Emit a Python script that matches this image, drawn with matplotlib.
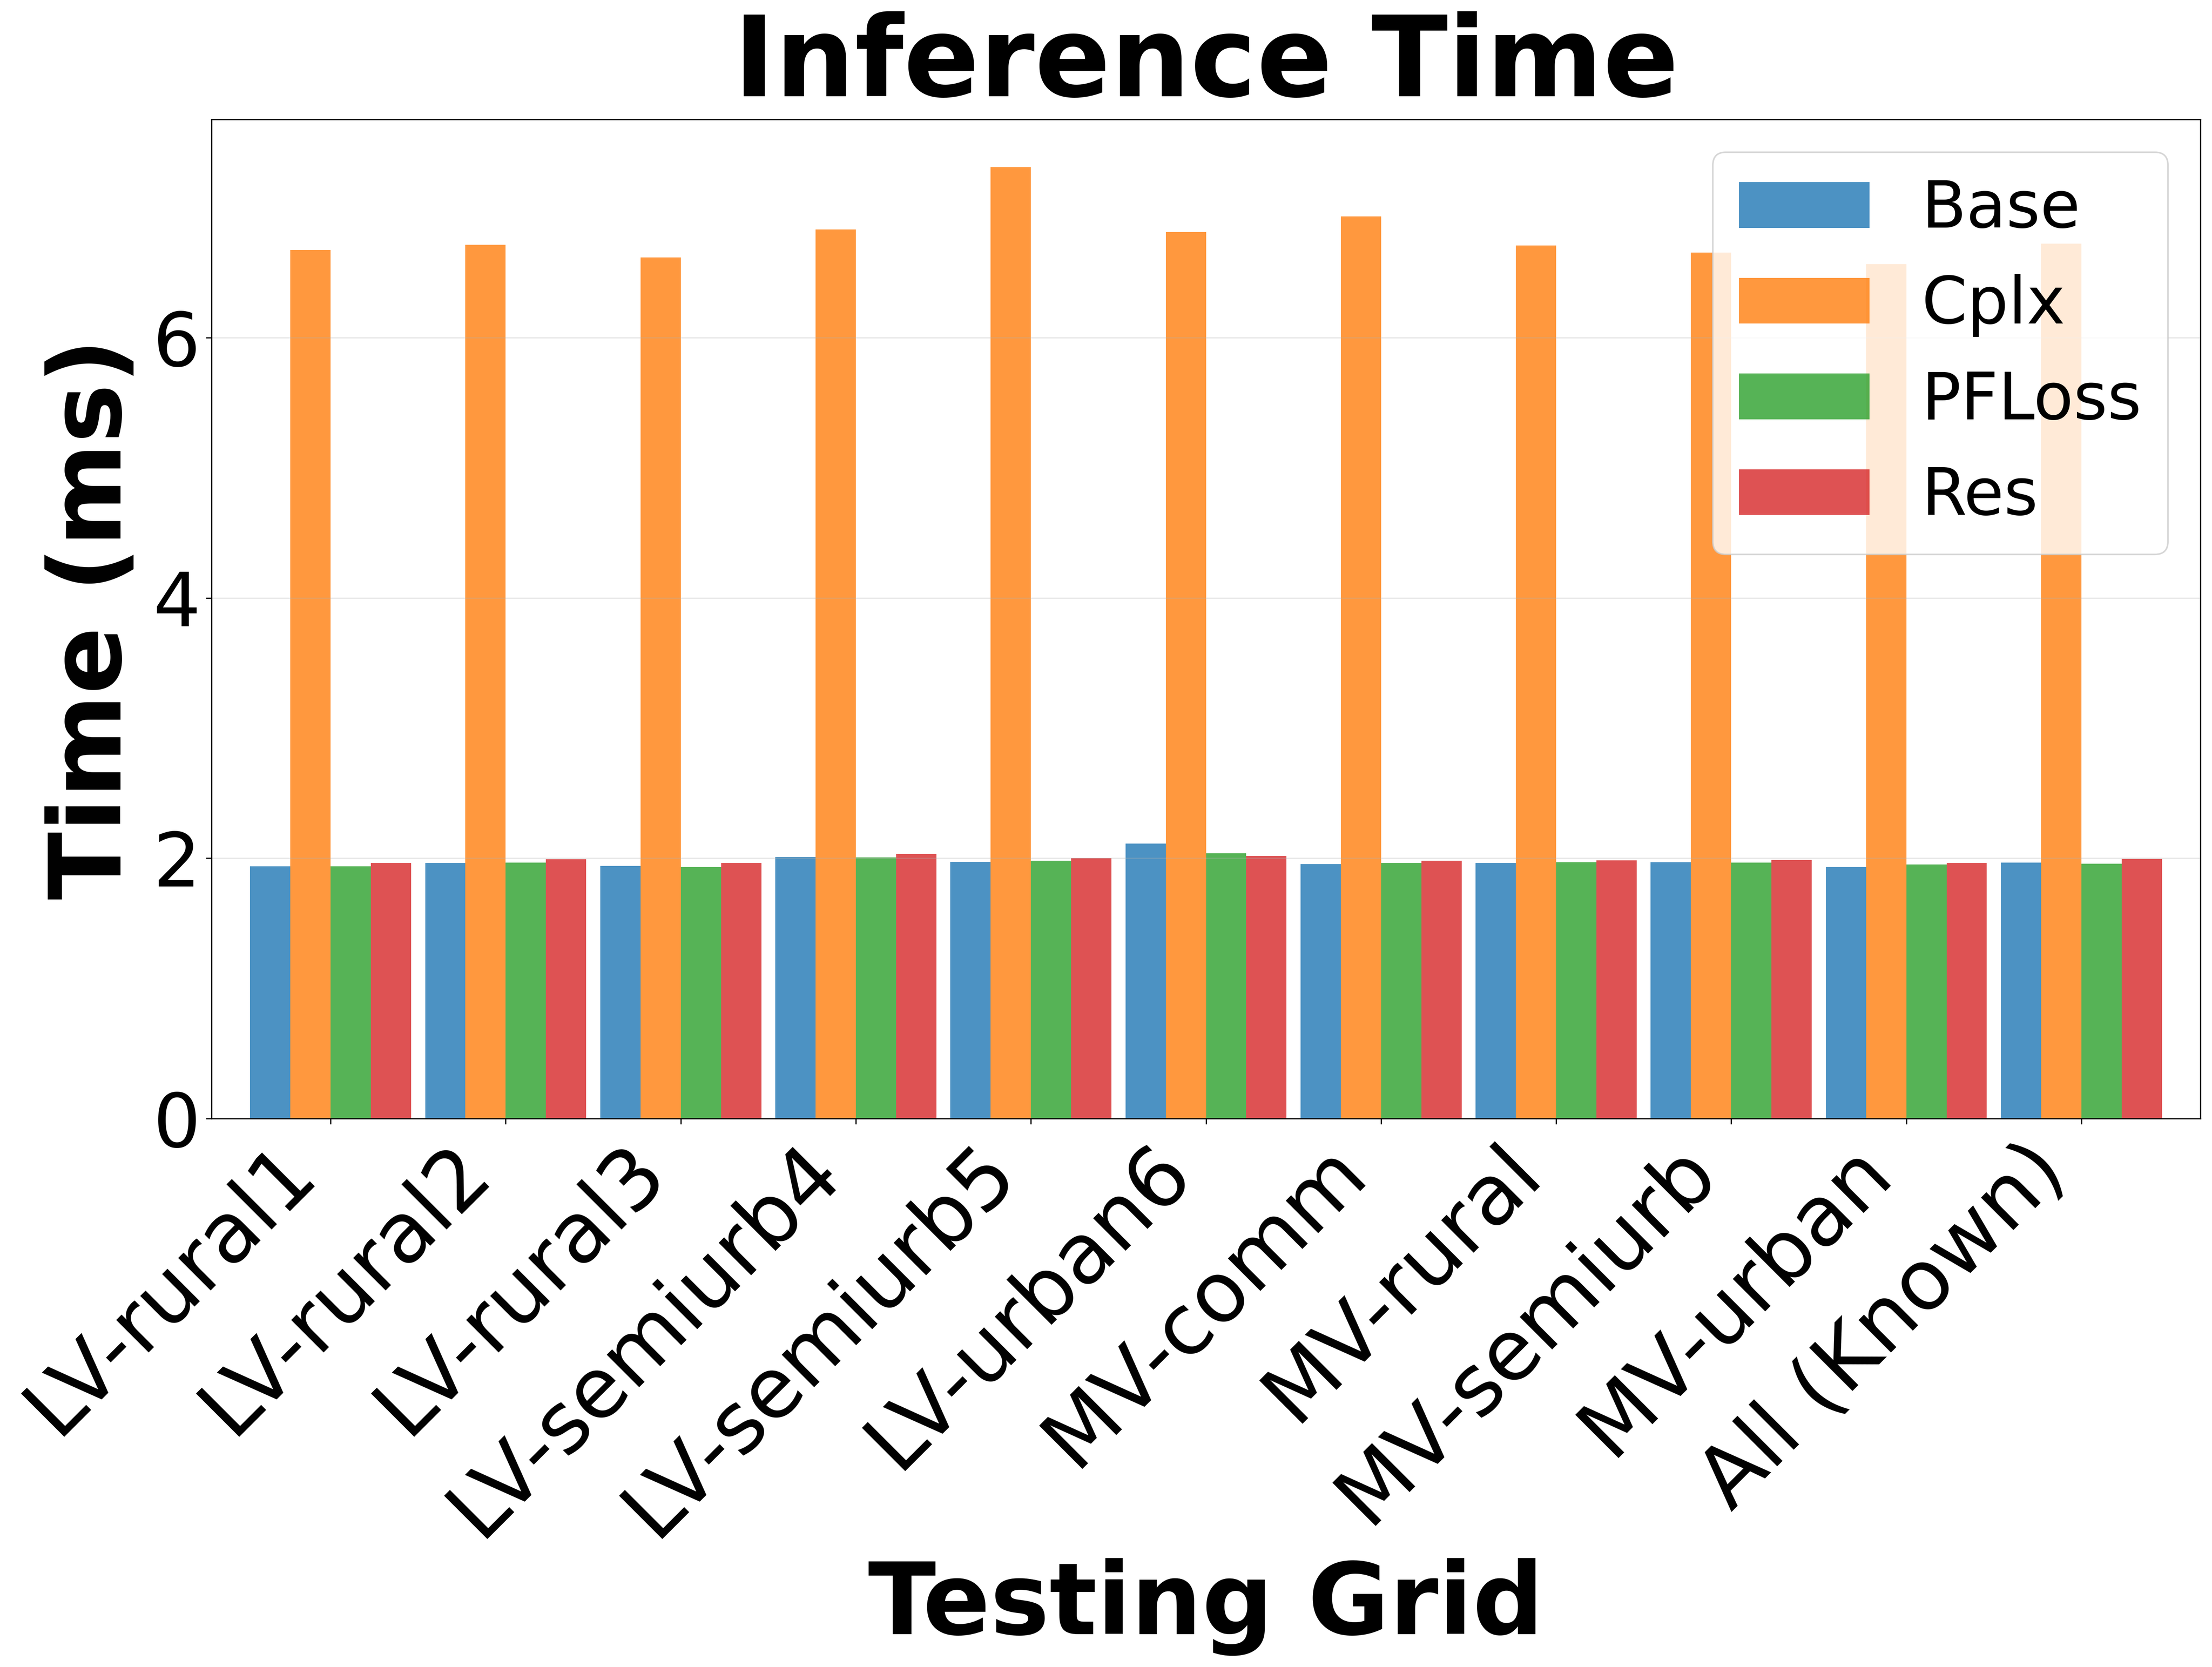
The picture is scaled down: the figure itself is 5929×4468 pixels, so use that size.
import numpy as np
import matplotlib
matplotlib.use("Agg")
import matplotlib.pyplot as plt

categories = ["LV-rural1", "LV-rural2", "LV-rural3", "LV-semiurb4", "LV-semiurb5",
              "LV-urban6", "MV-comm", "MV-rural", "MV-semiurb", "MV-urban", "All (Known)"]
series_names = ["Base", "Cplx", "PFLoss", "Res"]
base = [1.938, 1.964, 1.941, 2.010, 1.972, 2.113, 1.956, 1.964, 1.970, 1.933, 1.967]
cplx = [6.672, 6.712, 6.615, 6.832, 7.311, 6.812, 6.932, 6.708, 6.654, 6.563, 6.722]
pfloss = [1.938, 1.967, 1.933, 2.007, 1.980, 2.038, 1.964, 1.970, 1.967, 1.952, 1.959]
res = [1.964, 1.992, 1.964, 2.033, 2.002, 2.018, 1.980, 1.984, 1.987, 1.964, 1.995]
colors = ["tab:blue", "tab:orange", "tab:green", "tab:red"]

fig = plt.figure(figsize=(5929 / 300, 4468 / 300), dpi=300)
ax = fig.add_axes([567 / 5929, 1 - 2998 / 4468, (5898 - 567) / 5929, (2998 - 320) / 4468])

x = np.arange(len(categories))
w = 0.23
for i, (name, vals) in enumerate(zip(series_names, [base, cplx, pfloss, res])):
    ax.bar(x + (i - 1.5) * w, vals, w, label=name, color=colors[i], alpha=0.8)

ax.set_xlim(-0.68, len(categories) - 1 + 0.68)
ax.set_xticks(x)
ax.set_xticklabels(categories, rotation=45, ha="right", fontsize=54)
ax.tick_params(axis="y", labelsize=48)
ax.grid(axis="y", alpha=0.3)

ax.set_title("Inference Time", fontsize=72, fontweight="bold", pad=15)
ax.set_xlabel("Testing Grid", fontsize=64, fontweight="bold")
ax.set_ylabel("Time (ms)", fontsize=64, fontweight="bold")
ax.xaxis.set_label_coords(0.5, -0.440)
ax.yaxis.set_label_coords(-0.035, 0.5)

ax.legend(loc="upper right", fontsize=42)

fig.savefig("out.png", dpi=300)
